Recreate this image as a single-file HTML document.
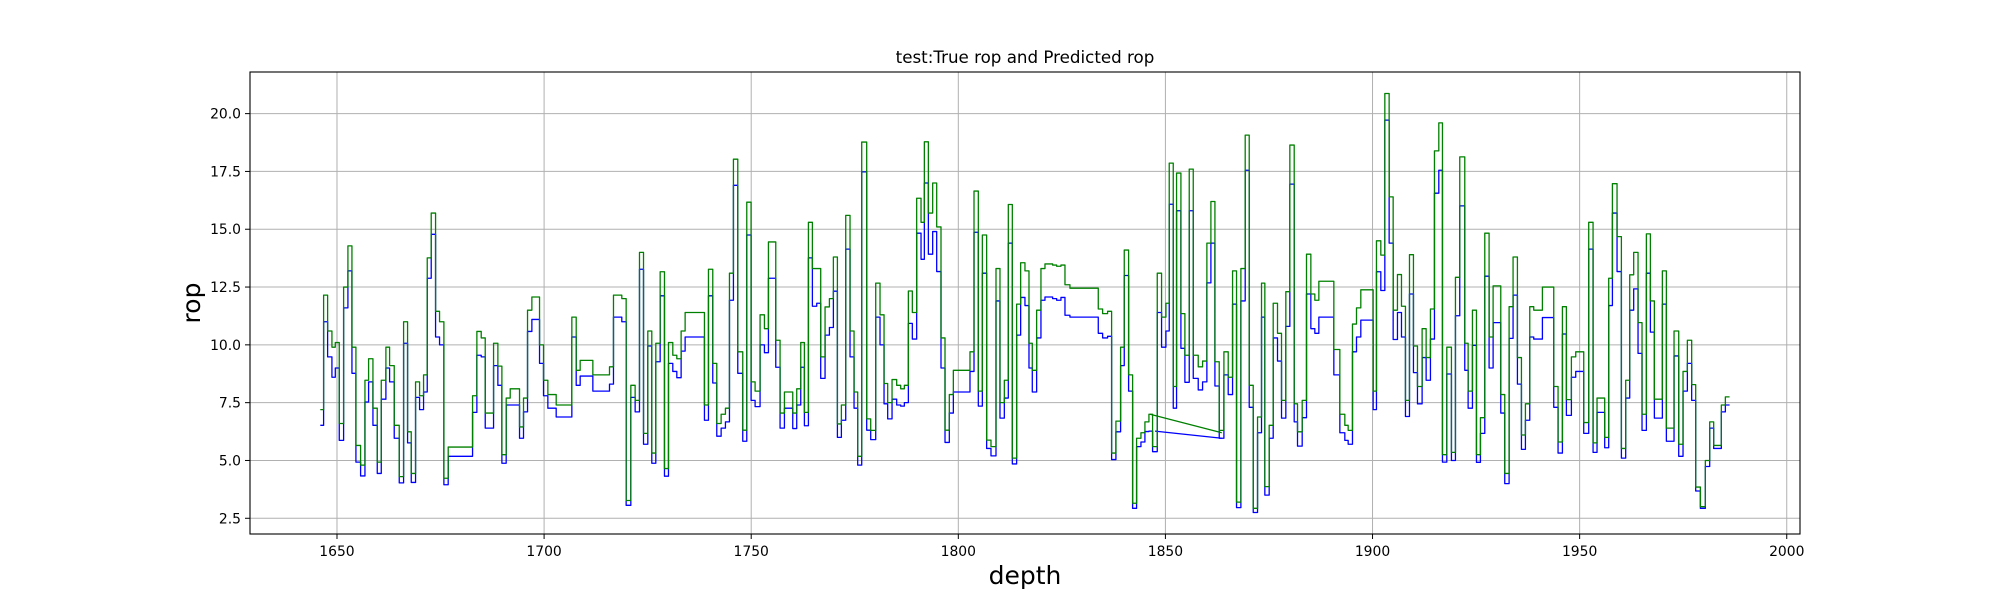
<!DOCTYPE html>
<html><head><meta charset="utf-8"><style>
html,body{margin:0;padding:0;background:#fff;}
svg text{font-family:"DejaVu Sans","Liberation Sans",sans-serif;fill:#000;}
</style></head><body>
<svg id="chart" width="2000" height="600" viewBox="0 0 2000 600" xmlns="http://www.w3.org/2000/svg">
<rect x="0" y="0" width="2000" height="600" fill="#fff"/>
<g id="grid"></g>
<g id="series"></g>
<g id="axes"></g>
<text x="1025" y="63" font-size="16.7" text-anchor="middle">test:True rop and Predicted rop</text>
<text x="1025" y="584" font-size="25" text-anchor="middle">depth</text>
<text x="0" y="0" font-size="25" text-anchor="middle" transform="translate(200,303) rotate(-90)">rop</text>
</svg>
<script>
const xTicks = [1650,1700,1750,1800,1850,1900,1950,2000];
const yTicks = [2.5,5.0,7.5,10.0,12.5,15.0,17.5,20.0];
const depthEnd = 1986.2;
const depths = [1645.97,1646.77,1647.74,1648.78,1649.59,1650.55,1651.6,1652.64,1653.61,1654.57,1655.7,1656.75,1657.63,1658.68,1659.72,1660.69,1661.81,1662.7,1663.82,1665.03,1666.08,1667.04,1667.93,1668.97,1669.94,1670.9,1671.79,1672.75,1673.8,1674.76,1675.81,1676.85,1682.73,1683.77,1684.82,1685.79,1687.8,1688.84,1689.81,1690.85,1691.82,1694.07,1695.03,1696.0,1697.05,1698.9,1699.86,1700.91,1702.92,1706.7,1707.75,1708.71,1711.77,1715.79,1716.75,1718.76,1719.81,1720.94,1721.98,1723.03,1724.0,1725.04,1726.0,1726.97,1728.02,1729.06,1730.03,1731.07,1732.04,1733.08,1734.05,1738.71,1739.68,1740.72,1741.69,1742.74,1743.78,1744.75,1745.71,1746.76,1747.96,1748.93,1749.97,1750.94,1752.14,1753.19,1754.16,1755.93,1756.97,1758.02,1760.03,1760.99,
1761.96,1762.84,1763.81,1764.77,1765.82,1766.78,1767.83,1768.88,1769.84,1770.81,1771.77,1772.82,1773.86,1774.83,1775.71,1776.68,1777.88,1778.85,1780.06,1781.1,1782.07,1782.95,1784.0,1785.12,1786.09,1786.97,1787.94,1788.9,1789.95,1791.0,1791.8,1792.77,1793.81,1794.78,1795.82,1796.79,1797.83,1798.8,1802.82,1803.79,1804.83,1805.8,1806.84,1807.89,1809.1,1810.06,1811.11,1812.07,1813.04,1814.08,1815.05,1816.09,1817.06,1817.86,1818.91,1819.95,1820.92,1822.77,1823.74,1824.78,1825.75,1826.95,1833.79,1834.84,1836.04,1837.01,1838.05,1839.18,1840.06,1841.11,1842.08,1843.04,1844.09,1845.05,1846.02,1846.9,1848.03,1849.07,1850.12,1850.92,1851.89,1852.69,1853.74,1854.7,1855.75,1856.72,1857.92,1858.97,1860.01,1860.98,1861.95,1862.99,1864.12,1865.16,1866.21,1867.17,1868.22,1869.26,1870.23,1871.2,1872.24,
1873.2,1874.0,1875.05,1876.02,1877.06,1878.03,1879.07,1880.04,1881.09,1881.89,1883.02,1884.06,1885.11,1886.07,1887.04,1890.66,1892.11,1893.31,1894.12,1895.16,1896.13,1897.17,1900.15,1900.95,1902.0,1902.97,1904.01,1904.98,1906.02,1906.99,1907.95,1908.92,1909.88,1910.85,1911.97,1912.94,1913.98,1914.95,1916.0,1916.88,1917.93,1919.05,1920.02,1921.06,1922.27,1923.08,1924.12,1925.09,1926.05,1927.1,1928.14,1929.11,1930.96,1931.92,1932.97,1933.93,1934.98,1935.95,1936.91,1937.96,1938.92,1941.01,1943.75,1944.79,1945.84,1946.8,1948.01,1949.06,1950.99,1952.19,1953.24,1954.2,1956.05,1957.02,1957.91,1959.03,1960.08,1961.12,1962.09,1963.05,1964.1,1965.06,1966.11,1967.08,1968.04,1969.97,1970.94,1972.79,1973.92,1974.96,1976.01,1977.05,1978.02,1979.15,1980.35,1981.4,1982.36,1984.21,1985.18];
const trueRop = [6.52,11.0,9.48,8.6,9.0,5.87,11.6,13.2,8.77,4.93,4.33,7.53,8.4,6.52,4.44,7.65,9.0,8.4,5.96,4.03,10.07,5.76,4.05,7.73,7.2,7.96,12.88,14.78,10.34,10.0,3.95,5.18,7.08,9.55,9.48,6.4,9.1,8.25,4.88,7.4,7.4,5.96,7.1,10.58,11.1,9.2,7.8,7.26,6.88,10.34,8.25,8.65,8.0,8.3,11.2,11.0,3.06,7.73,7.1,13.27,5.7,9.95,4.88,9.27,12.12,4.32,9.2,8.85,8.58,9.73,10.34,6.74,12.12,8.35,6.05,6.4,6.67,11.93,16.9,8.77,5.83,14.75,7.6,7.33,10.0,9.66,12.88,9.03,6.4,7.26,6.38,7.4,
9.03,6.5,13.76,11.67,11.8,8.55,10.42,10.75,12.32,6.0,6.74,14.14,9.48,7.26,4.8,17.48,6.31,5.9,11.2,10.0,7.45,6.8,7.65,7.4,7.35,7.5,10.93,10.25,14.83,13.7,17.0,13.92,14.9,13.17,9.0,5.78,7.05,7.96,8.85,14.87,7.35,13.1,5.52,5.2,11.9,6.83,7.7,14.4,4.85,10.42,12.05,11.7,9.0,7.96,10.3,11.93,12.07,12.0,11.93,12.05,11.28,11.2,10.5,10.3,10.37,5.04,6.24,9.1,13.0,8.0,2.93,5.6,5.8,6.25,6.27,5.38,11.4,9.9,10.6,16.08,7.26,15.8,9.85,8.38,15.8,8.55,8.05,8.4,12.68,14.4,8.22,5.96,8.7,7.85,11.76,2.96,11.9,17.55,7.3,2.75,6.2,
11.2,3.5,5.96,10.3,9.3,6.83,10.8,16.95,6.67,5.62,6.85,12.2,10.7,10.5,11.2,8.7,6.2,5.87,5.7,9.7,10.34,11.07,7.2,13.16,12.35,19.72,14.4,10.23,11.4,10.34,6.9,12.2,8.8,7.45,9.45,8.47,10.25,16.56,17.55,4.93,8.74,5.0,11.26,16.01,8.9,7.26,9.98,4.92,6.17,12.97,9.0,10.96,7.05,4.0,10.28,12.15,8.3,5.48,6.74,10.34,10.25,11.18,7.3,5.32,10.47,6.95,8.6,8.85,6.17,14.14,5.35,7.08,5.55,11.7,15.7,13.17,5.1,7.7,11.5,12.42,9.63,6.3,13.1,10.55,6.83,11.76,5.83,9.52,5.18,8.0,9.2,7.6,3.68,2.93,4.74,6.4,5.52,7.1,7.4];
const predRop = [7.2,12.15,10.6,9.9,10.1,6.6,12.5,14.28,9.9,5.65,4.8,8.47,9.4,7.26,4.93,8.47,9.9,9.1,6.52,4.3,11.0,6.24,4.44,8.4,7.8,8.7,13.76,15.7,11.45,11.0,4.23,5.58,7.8,10.58,10.3,7.05,10.07,9.08,5.25,7.7,8.1,6.45,7.7,11.5,12.07,10.0,8.47,7.85,7.4,11.2,8.9,9.33,8.7,9.05,12.15,12.0,3.27,8.25,7.6,14.0,6.17,10.6,5.32,10.07,13.16,4.65,10.1,9.55,9.4,10.6,11.4,7.4,13.27,9.2,6.6,7.0,7.26,13.1,18.03,9.7,6.31,16.17,8.4,8.0,11.3,10.7,14.45,10.2,7.05,7.96,7.05,8.1,
10.1,7.08,15.3,13.3,13.3,9.48,11.64,12.0,13.8,6.58,7.4,15.6,10.6,7.96,5.18,18.77,6.8,6.3,12.67,11.3,8.33,7.5,8.5,8.25,8.1,8.25,12.33,11.4,16.34,15.3,18.78,15.7,17.0,15.1,10.3,6.31,7.85,8.9,9.7,16.65,8.0,14.75,5.88,5.6,13.3,7.5,8.47,16.07,5.1,11.76,13.55,13.2,10.07,8.9,11.5,13.3,13.5,13.45,13.4,13.45,12.6,12.45,11.55,11.35,11.45,5.32,6.7,9.9,14.1,8.7,3.15,5.96,6.2,6.67,7.0,5.6,13.1,11.2,11.8,17.86,8.2,17.43,11.35,9.55,17.6,9.55,9.05,9.3,14.4,16.2,9.27,6.3,9.7,8.6,13.2,3.2,13.3,19.07,8.25,2.93,6.88,
12.67,3.87,6.52,11.8,10.5,7.6,12.3,18.64,7.45,6.24,7.6,13.92,12.2,11.93,12.75,9.8,7.0,6.52,6.3,10.9,11.6,12.38,8.0,14.5,13.88,20.87,16.4,11.5,13.04,11.67,7.6,13.9,9.95,8.2,10.7,9.45,11.55,18.39,19.6,5.25,9.9,5.35,12.92,18.13,10.07,8.0,11.5,5.25,6.85,14.83,10.34,12.55,7.85,4.44,11.65,13.8,9.45,6.1,7.45,11.65,11.5,12.5,8.2,5.8,11.65,7.63,9.48,9.7,6.64,15.3,5.76,7.7,6.0,12.88,16.97,14.68,5.52,8.47,13.03,14.0,10.96,7.0,14.8,11.9,7.65,13.2,6.4,10.6,5.7,8.85,10.2,8.28,3.85,3.0,5.0,6.67,5.65,7.4,7.75];
const jumpDepthTrue = [1847.5,1863.6];
const jumpTrue = [6.27,5.96];
const jumpDepthPred = [1846.3,1863.6];
const jumpPred = [7.0,6.2];

const L=250,R=1800,T=72,B=534;
const xMin=1629.0,xMax=2003.2,yMin=1.82,yMax=21.8;
function xs(d){return L+(d-xMin)/(xMax-xMin)*(R-L);}
function ys(v){return B-(v-yMin)/(yMax-yMin)*(B-T);}
const NS='http://www.w3.org/2000/svg';
const grid=document.getElementById('grid'),axes=document.getElementById('axes'),series=document.getElementById('series');
function mk(tag,attrs,parent){const e=document.createElementNS(NS,tag);for(const k in attrs)e.setAttribute(k,attrs[k]);parent.appendChild(e);return e;}
xTicks.forEach(t=>{
  const x=xs(t);
  const g=mk('line',{x1:x,x2:x,y1:T,y2:B,stroke:'#b0b0b0','stroke-width':1},grid);
  
  
  const tk=mk('line',{x1:x,x2:x,y1:B,y2:B+5,stroke:'#000','stroke-width':1},axes);
  
  
  const lb=mk('text',{x:x,y:B+22,'font-size':13.9,'text-anchor':'middle'},axes);
  lb.textContent=String(t);
  
  
});
yTicks.forEach(t=>{
  const y=ys(t);
  const g=mk('line',{x1:L,x2:R,y1:y,y2:y,stroke:'#b0b0b0','stroke-width':1},grid);
  
  
  const tk=mk('line',{x1:L-5,x2:L,y1:y,y2:y,stroke:'#000','stroke-width':1},axes);
  
  
  const lb=mk('text',{x:L-9,y:y+5,'font-size':13.9,'text-anchor':'end'},axes);
  lb.textContent=t.toFixed(1);
  
  
});
const frame=mk('rect',{x:L,y:T,width:R-L,height:B-T,fill:'none',stroke:'#000','stroke-width':1.1},axes);


function stepPath(vals){
  let d='M'+xs(depths[0]).toFixed(2)+' '+ys(vals[0]).toFixed(2);
  for(let i=0;i<depths.length;i++){
    const nx=i+1<depths.length?depths[i+1]:depthEnd;
    d+=' H'+xs(nx).toFixed(2);
    if(i+1<depths.length)d+=' V'+ys(vals[i+1]).toFixed(2);
  }
  return d;
}
const bl=mk('path',{d:stepPath(trueRop),fill:'none',stroke:'#0000ff','stroke-width':1.3,'stroke-linejoin':'round'},series);


const bj=mk('line',{x1:xs(jumpDepthTrue[0]),y1:ys(jumpTrue[0]),x2:xs(jumpDepthTrue[1]),y2:ys(jumpTrue[1]),stroke:'#0000ff','stroke-width':1.3},series);


const gl=mk('path',{d:stepPath(predRop),fill:'none',stroke:'#008000','stroke-width':1.3,'stroke-linejoin':'round'},series);


const gj=mk('line',{x1:xs(jumpDepthPred[0]),y1:ys(jumpPred[0]),x2:xs(jumpDepthPred[1]),y2:ys(jumpPred[1]),stroke:'#008000','stroke-width':1.3},series);


</script>
</body></html>
